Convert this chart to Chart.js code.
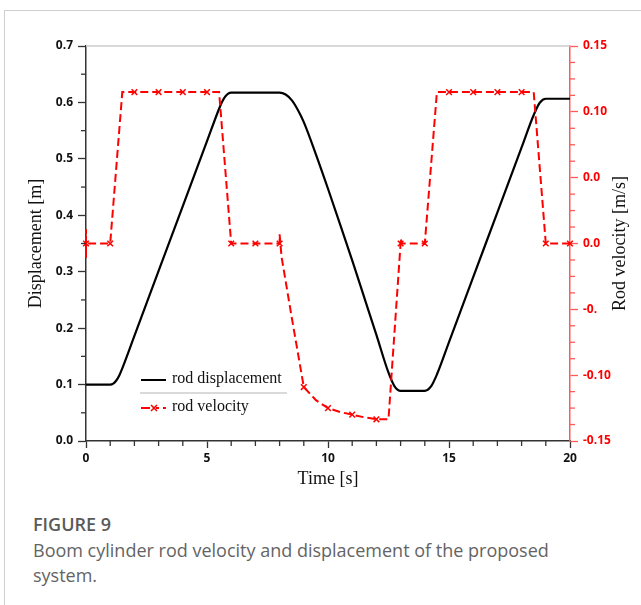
<!DOCTYPE html>
<html>
<head>
<meta charset="utf-8">
<script src="https://cdn.jsdelivr.net/npm/chart.js@4"></script>
<style>
  html,body{margin:0;padding:0;background:#fff;}
  #wrap{position:relative;width:641px;height:605px;overflow:hidden;}
  #frame{position:absolute;left:4px;top:10px;width:700px;height:700px;border-left:1px solid #cfcfcf;border-top:1px solid #cfcfcf;}
  #c{position:absolute;left:0;top:0;}
  .cap{position:absolute;left:33px;font-family:"Open Sans",sans-serif;font-size:18px;color:#646464;}
  #fig{top:512px;font-weight:600;color:#5a5a5a;}
  #txt{top:538px;line-height:25px;width:560px;}
</style>
</head>
<body>
<div id="wrap">
  <div id="frame"></div>
  <canvas id="c" width="641" height="500"></canvas>
  <div class="cap" id="fig">FIGURE 9</div>
  <div class="cap" id="txt">Boom cylinder rod velocity and displacement of the proposed<br>system.</div>
</div>
<script>
// rod displacement [m] vs time [s]
const dispTime =[0,0.5,1,1.125,1.25,1.375,1.5,2,3,4,5,5.5,5.625,5.75,5.875,6,7,8,8.25,8.5,8.75,9,9.5,10,10.5,11,11.5,12,12.5,12.75,13,13.5,14,14.25,14.5,15,16,17,18,18.5,18.75,19,20];
const dispValue=[0.1,0.1,0.1,0.1018,0.1072,0.1162,0.1288,0.1863,0.3013,0.4163,0.5313,0.5888,0.6012,0.6104,0.6157,0.6175,0.6175,0.6175,0.614,0.604,0.587,0.565,0.508,0.447,0.384,0.320,0.254,0.188,0.121,0.097,0.089,0.089,0.089,0.0962,0.1178,0.1753,0.2903,0.4053,0.5203,0.5778,0.5994,0.6065,0.6065];

// rod velocity [m/s] vs time [s]
const velTime =[0,0,0,0,0.5,1,1.5,2,2.5,3,3.5,4,4.5,5,5.5,6,6.5,7,7.5,8,8,8.08,8.5,9,9.5,10,10.5,11,11.5,12,12.5,13,13,13.05,13.5,14,14.5,15,15.5,16,16.5,17,17.5,18,18.5,19,19.5,20];
const velValue=[0,0.011,-0.011,0,0,0,0.115,0.115,0.115,0.115,0.115,0.115,0.115,0.115,0.115,0,0,0,0,0,0.007,-0.01,-0.056,-0.109,-0.119,-0.125,-0.128,-0.130,-0.132,-0.1335,-0.1335,0,0.004,0,0,0,0.115,0.115,0.115,0.115,0.115,0.115,0.115,0.115,0.115,0,0,0];

const timeTicks=[0,5,10,15,20];
const dispTicks=[0,0.1,0.2,0.3,0.4,0.5,0.6,0.7];
const velTicks=[-0.15,-0.10,-0.05,0,0.05,0.10,0.15];
const velTickText=['-0.15','-0.10','-0.','0.0','0.0','0.10','0.15'];

const RED='#ff0000', AXRED='#ff5a5a';
const serif='"Liberation Serif","Times New Roman",serif';
const tickFont={family:'"Open Sans",sans-serif',size:12,weight:'bold'};

function isMark(i){
  const t=velTime[i];
  return Number.isInteger(t)&&(i===0||velTime[i-1]!==t);
}

const extras={
  id:'extras',
  afterDraw(chart){
    const c=chart.ctx, a=chart.chartArea, s=chart.scales;
    c.save();
    // top frame
    c.strokeStyle='#cccccc'; c.lineWidth=1.5;
    c.beginPath(); c.moveTo(a.left,a.top); c.lineTo(a.right,a.top); c.stroke();
    // minor ticks
    c.lineWidth=1.3; c.strokeStyle='#333';
    for(let t=1;t<20;t++){ if(t%5===0) continue;
      const x=s.x.getPixelForValue(t); c.beginPath(); c.moveTo(x,a.bottom); c.lineTo(x,a.bottom+5); c.stroke(); }
    for(let k=0;k<7;k++){ const y=s.y.getPixelForValue(0.05+k*0.1);
      c.beginPath(); c.moveTo(a.left,y); c.lineTo(a.left-5,y); c.stroke(); }
    c.strokeStyle=AXRED;
    for(let k=0;k<24;k++){ if(k%4===0) continue; const y=s.y2.getPixelForValue(-0.15+k*0.0125);
      c.beginPath(); c.moveTo(a.right,y); c.lineTo(a.right+5,y); c.stroke(); }
    // axis titles
    c.fillStyle='#111'; c.font='18px '+serif; c.textAlign='center'; c.textBaseline='middle';
    c.fillText('Time [s]',(a.left+a.right)/2,479);
    const mid=(a.top+a.bottom)/2;
    c.save(); c.translate(36,mid); c.rotate(-Math.PI/2); c.fillText('Displacement [m]',0,0); c.restore();
    c.save(); c.translate(620,mid); c.rotate(-Math.PI/2); c.fillText('Rod velocity [m/s]',0,0); c.restore();
    // legend
    c.textAlign='left'; c.font='16px '+serif;
    c.strokeStyle='#000'; c.lineWidth=2;
    c.beginPath(); c.moveTo(141,380); c.lineTo(166,380); c.stroke();
    c.fillText('rod displacement',172,379);
    c.strokeStyle='#b5b5b5'; c.lineWidth=1;
    c.beginPath(); c.moveTo(140,393); c.lineTo(287,393); c.stroke();
    c.strokeStyle=RED; c.lineWidth=2;
    c.beginPath(); c.moveTo(141,408); c.lineTo(150,408); c.moveTo(156,408); c.lineTo(159,408); c.moveTo(163,408); c.lineTo(166,408); c.stroke();
    c.lineWidth=1.5; c.beginPath();
    c.moveTo(151,405); c.lineTo(157,411); c.moveTo(157,405); c.lineTo(151,411); c.stroke();
    c.fillText('rod velocity',172,407);
    c.restore();
  }
};

new Chart(document.getElementById('c'),{
  type:'line',
  data:{datasets:[
    {label:'rod velocity',data:velTime.map((t,i)=>({x:t,y:velValue[i]})),yAxisID:'y2',
      borderColor:RED,borderWidth:2,borderDash:[8,4],tension:0,clip:false,order:0,
      pointStyle:'crossRot',pointRadius:ctx=>isMark(ctx.dataIndex)?4:0,pointBorderColor:RED,pointBorderWidth:1.5},
    {label:'rod displacement',data:dispTime.map((t,i)=>({x:t,y:dispValue[i]})),yAxisID:'y',
      borderColor:'#000',borderWidth:2.2,pointRadius:0,cubicInterpolationMode:'monotone',order:1}
  ]},
  options:{
    responsive:false,animation:false,devicePixelRatio:1,
    layout:{padding:{top:46,left:0,right:0,bottom:0}},
    plugins:{legend:{display:false},tooltip:{enabled:false}},
    scales:{
      x:{type:'linear',min:0,max:20,
        afterBuildTicks:s=>{s.ticks=timeTicks.map(v=>({value:v}));},
        afterFit:s=>{s.height=59;},
        border:{color:'#333',width:1.5},
        grid:{drawOnChartArea:false,tickLength:7,tickColor:'#333',tickWidth:1.3},
        ticks:{color:'#111',font:tickFont,padding:3,maxRotation:0,callback:v=>String(v)}},
      y:{position:'left',min:0,max:0.7,
        afterBuildTicks:s=>{s.ticks=dispTicks.map(v=>({value:v}));},
        afterFit:s=>{s.width=86;},
        border:{color:'#333',width:1.5},
        grid:{drawOnChartArea:false,tickLength:8,tickColor:'#333',tickWidth:1.3},
        ticks:{color:'#111',font:tickFont,padding:5,callback:v=>v.toFixed(1)}},
      y2:{position:'right',min:-0.15,max:0.15,
        afterBuildTicks:s=>{s.ticks=velTicks.map(v=>({value:v}));},
        afterFit:s=>{s.width=71;},
        border:{color:AXRED,width:1.5},
        grid:{drawOnChartArea:false,tickLength:8,tickColor:AXRED,tickWidth:1.3},
        ticks:{color:RED,font:tickFont,padding:5,
          callback:v=>velTickText[velTicks.findIndex(w=>Math.abs(w-v)<1e-6)]}}
    }
  },
  plugins:[extras]
});
</script>
</body>
</html>
